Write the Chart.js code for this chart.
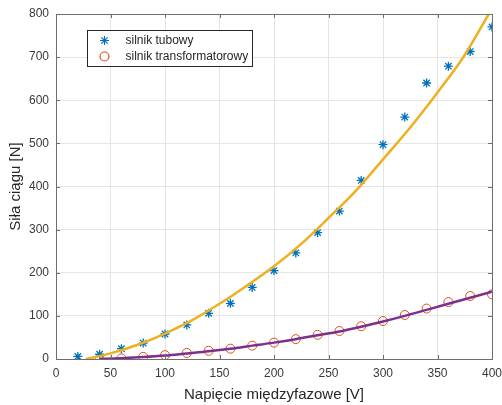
<!DOCTYPE html>
<html>
<head>
<meta charset="utf-8">
<script src="https://cdn.jsdelivr.net/npm/chart.js@4/dist/chart.umd.min.js"></script>
<style>
  html, body { margin: 0; padding: 0; background: #fff; }
  #wrap { width: 502px; height: 405px; position: relative; }
</style>
</head>
<body>
<div id="wrap"><canvas id="silnikChart"></canvas></div>
<script>
// measured points
const voltage = [20, 40, 60, 80, 100, 120, 140, 160, 180, 200, 220, 240, 260, 280, 300, 320, 340, 360, 380, 400];
const tubowy = [6, 11, 24, 37, 58, 79, 106, 129, 166, 205, 246, 293, 343, 414, 497, 561, 640, 679, 713, 770];

const voltageTrans = [40, 60, 80, 100, 120, 140, 160, 180, 200, 220, 240, 260, 280, 300, 320, 340, 360, 380, 400];
const transformatorowy = [0, 1.5, 5, 9, 14, 19, 24, 31, 38, 46, 56, 65, 76, 88, 102, 117, 132, 146, 150];

// fitted curves
const fitTubowyV = [27.5, 50, 75, 100, 125, 150, 175, 200, 225, 250, 275, 300, 325, 350, 375, 397];
const fitTubowy = [0, 13, 33, 59, 90, 128, 170, 215, 267, 327, 390, 463, 537, 618, 705, 800];

const fitTransV = [40, 60, 80, 100, 120, 140, 160, 180, 200, 220, 240, 260, 280, 300, 320, 340, 360, 380, 400];
const fitTrans = [0, 2, 4.5, 8, 13, 18, 24, 31, 38, 46, 55, 64, 75, 87, 100, 114, 128, 142, 156];

const xTicks = [0, 50, 100, 150, 200, 250, 300, 350, 400];
const yTicks = [0, 100, 200, 300, 400, 500, 600, 700, 800];

const textColor = '#262626';
const gridColor = '#e5e5e5';
const fontFamily = '"Liberation Sans", Arial, sans-serif';

function toXY(xs, ys) {
    return xs.map((x, i) => ({ x: x, y: ys[i] }));
}

// box around plot + inner ticks + legend inside the axes (matlab style)
const boxPlugin = {
    id: 'boxPlugin',
    afterDraw(chart) {
        const ctx = chart.ctx;
        const a = chart.chartArea;
        const xs = chart.scales.x, ys = chart.scales.y;
        ctx.save();
        ctx.strokeStyle = '#6e6e6e';
        ctx.lineWidth = 1;
        ctx.beginPath();
        xTicks.forEach(t => {
            const px = Math.round(xs.getPixelForValue(t)) + 0.5;
            ctx.moveTo(px, a.bottom); ctx.lineTo(px, a.bottom - 4);
            ctx.moveTo(px, a.top); ctx.lineTo(px, a.top + 4);
        });
        yTicks.forEach(t => {
            const py = Math.round(ys.getPixelForValue(t)) + 0.5;
            ctx.moveTo(a.left, py); ctx.lineTo(a.left + 4, py);
            ctx.moveTo(a.right, py); ctx.lineTo(a.right - 4, py);
        });
        ctx.stroke();
        ctx.strokeRect(Math.round(a.left) + 0.5, Math.round(a.top) + 0.5,
            Math.round(a.right - a.left), Math.round(a.bottom - a.top));

        // legend
        const lx = 87.5, ly = 30.5, lw = 165, lh = 36;
        ctx.fillStyle = '#fff';
        ctx.fillRect(lx, ly, lw, lh);
        ctx.strokeStyle = '#262626';
        ctx.strokeRect(lx, ly, lw, lh);
        ctx.font = '12px ' + fontFamily;
        ctx.textBaseline = 'middle';
        ctx.textAlign = 'left';
        const items = [
            { label: chart.data.datasets[0].label, style: 'star', color: '#0072BD' },
            { label: chart.data.datasets[1].label, style: 'circle', color: '#D95319' }
        ];
        items.forEach((it, i) => {
            const cy = ly + 10 + i * 16;
            ctx.fillStyle = 'rgba(0,0,0,0)';
            ctx.strokeStyle = it.color;
            ctx.lineWidth = 1.2;
            Chart.helpers.drawPoint(ctx, {
                pointStyle: it.style, radius: 4.5, borderWidth: 1.2
            }, lx + 17, cy);
            ctx.fillStyle = textColor;
            ctx.fillText(it.label, lx + 38, cy);
        });
        ctx.restore();
    }
};

const ctx = document.getElementById('silnikChart').getContext('2d');

new Chart(ctx, {
    type: 'scatter',
    data: {
        datasets: [
            {
                label: 'silnik tubowy',
                data: toXY(voltage, tubowy),
                pointStyle: 'star',
                pointRadius: 4.5,
                borderColor: '#0072BD',
                backgroundColor: '#0072BD',
                borderWidth: 1.3,
                showLine: false,
                order: 2
            },
            {
                label: 'silnik transformatorowy',
                data: toXY(voltageTrans, transformatorowy),
                pointStyle: 'circle',
                pointRadius: 4.5,
                borderColor: '#D95319',
                backgroundColor: 'rgba(0,0,0,0)',
                borderWidth: 1,
                showLine: false,
                order: 2
            },
            {
                label: 'fit tubowy',
                data: toXY(fitTubowyV, fitTubowy),
                showLine: true,
                borderColor: '#EDB120',
                borderWidth: 2.5,
                pointRadius: 0,
                cubicInterpolationMode: 'monotone',
                order: 1
            },
            {
                label: 'fit transformatorowy',
                data: toXY(fitTransV, fitTrans),
                showLine: true,
                borderColor: '#7E2F8E',
                borderWidth: 2.5,
                pointRadius: 0,
                cubicInterpolationMode: 'monotone',
                order: 1
            }
        ]
    },
    options: {
        responsive: true,
        maintainAspectRatio: false,
        animation: false,
        layout: { padding: { top: 14, right: 10, left: 0, bottom: 0 } },
        plugins: {
            legend: { display: false },
            tooltip: { enabled: false }
        },
        scales: {
            x: {
                type: 'linear',
                min: 0,
                max: 400,
                afterBuildTicks: s => { s.ticks = xTicks.map(v => ({ value: v })); },
                afterFit: s => { s.height = 46; s.paddingLeft = 0; s.paddingRight = 0; },
                grid: { color: gridColor, drawTicks: false },
                border: { display: false },
                ticks: {
                    color: '#3a3a3a',
                    padding: 7,
                    font: { family: fontFamily, size: 12 }
                },
                title: {
                    display: true,
                    text: 'Napięcie międzyfazowe [V]',
                    color: textColor,
                    padding: { top: 0, bottom: 1 },
                    font: { family: fontFamily, size: 15 }
                }
            },
            y: {
                min: 0,
                max: 800,
                afterBuildTicks: s => { s.ticks = yTicks.map(v => ({ value: v })); },
                afterFit: s => { s.width = 56; s.paddingTop = 0; s.paddingBottom = 0; },
                grid: { color: gridColor, drawTicks: false },
                border: { display: false },
                ticks: {
                    color: '#3a3a3a',
                    padding: 7,
                    font: { family: fontFamily, size: 12 }
                },
                title: {
                    display: true,
                    text: 'Siła ciągu [N]',
                    color: textColor,
                    padding: { top: 7, bottom: 0 },
                    font: { family: fontFamily, size: 15 }
                }
            }
        }
    },
    plugins: [boxPlugin]
});
</script>
</body>
</html>
